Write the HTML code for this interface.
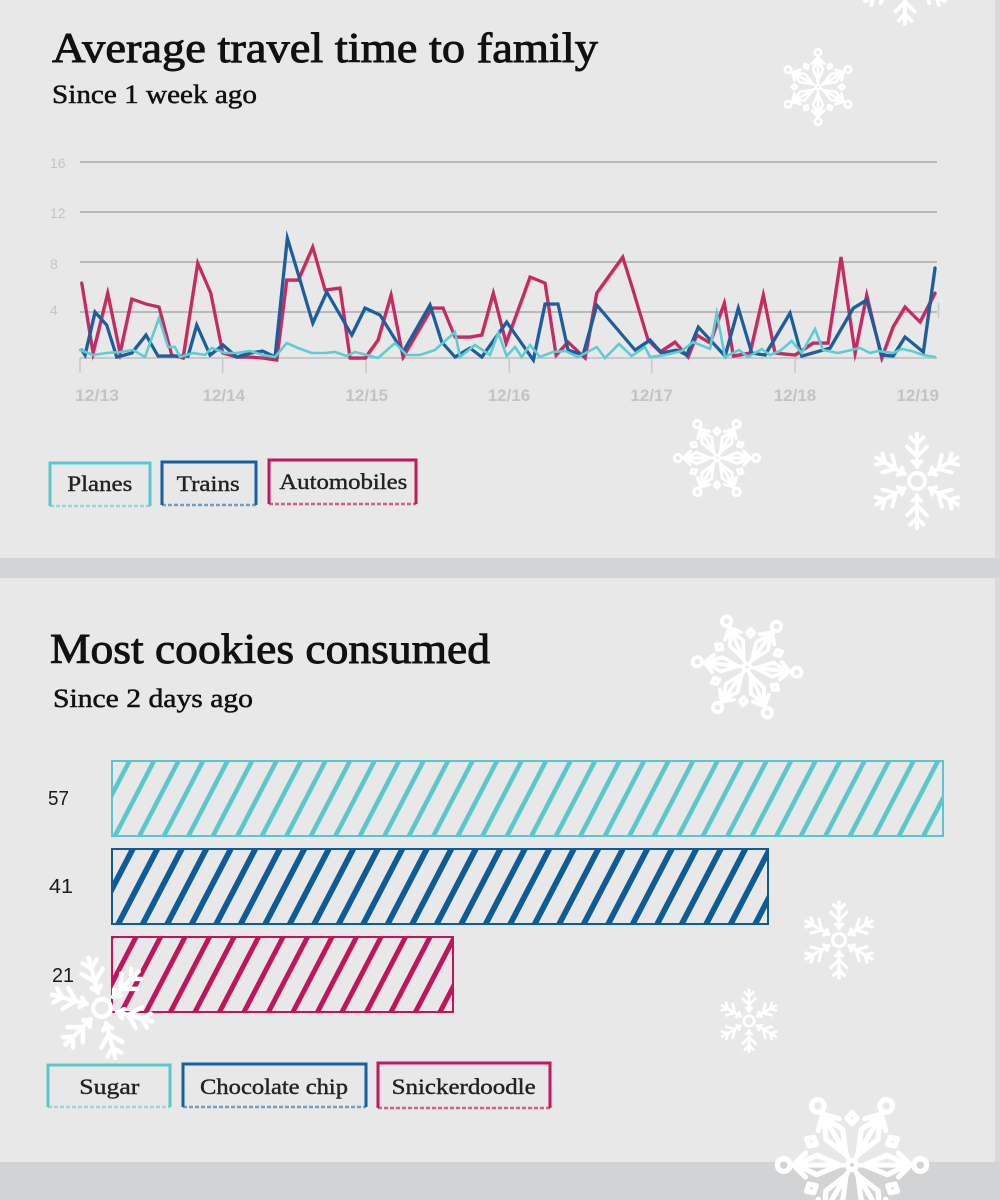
<!DOCTYPE html>
<html>
<head>
<meta charset="utf-8">
<style>
  html,body{margin:0;padding:0;background:#e8e8e8;}
  svg{display:block;}
  .serif{font-family:"Liberation Serif","DejaVu Serif",serif;}
  .sans{font-family:"Liberation Sans","DejaVu Sans",sans-serif;}
</style>
</head>
<body>
<svg width="1000" height="1200" viewBox="0 0 1000 1200" xmlns="http://www.w3.org/2000/svg">
  <defs>
    <pattern id="pc" patternUnits="userSpaceOnUse" width="24.5" height="200" patternTransform="skewX(-27.5)">
      <rect x="8.5" y="0" width="5.2" height="200" fill="#5ac7cc"/>
    </pattern>
    <pattern id="pb" patternUnits="userSpaceOnUse" width="24.5" height="200" patternTransform="skewX(-27.5)">
      <rect x="8" y="0" width="6.5" height="200" fill="#0d5b97"/>
    </pattern>
    <pattern id="pr" patternUnits="userSpaceOnUse" width="24.5" height="200" patternTransform="skewX(-27.5)">
      <rect x="8.5" y="0" width="5.6" height="200" fill="#c0145c"/>
    </pattern>

    <g id="armB">
      <line x1="0" y1="-0.3" x2="0" y2="-1"/>
      <polyline points="-0.21,-0.73 0,-0.52 0.21,-0.73"/>
      <polyline points="-0.14,-0.93 0,-0.79 0.14,-0.93"/>
      <polyline points="-0.09,-0.42 0,-0.33 0.09,-0.42"/>
    </g>
    <g id="snowB" fill="none" stroke="#ffffff" stroke-width="0.085" stroke-linecap="round" stroke-linejoin="round">
      <circle cx="0" cy="0" r="0.17"/>
      <use href="#armB"/>
      <use href="#armB" transform="rotate(60)"/>
      <use href="#armB" transform="rotate(120)"/>
      <use href="#armB" transform="rotate(180)"/>
      <use href="#armB" transform="rotate(240)"/>
      <use href="#armB" transform="rotate(300)"/>
    </g>

    <g id="armA">
      <line x1="0" y1="-0.12" x2="0" y2="-0.82"/>
      <circle cx="0" cy="-0.91" r="0.085"/>
      <path d="M0,-0.16 L0.13,-0.47 L0,-0.74 L-0.13,-0.47 Z"/>
      <polyline points="-0.16,-0.62 0,-0.78 0.16,-0.62"/>
      <g transform="rotate(30)">
        <path d="M0,-0.7 L0.065,-0.625 L0,-0.55 L-0.065,-0.625 Z"/>
      </g>
    </g>
    <g id="snowA" fill="none" stroke="#ffffff" stroke-width="0.07" stroke-linecap="round" stroke-linejoin="round">
      <circle cx="0" cy="0" r="0.06"/>
      <use href="#armA"/>
      <use href="#armA" transform="rotate(60)"/>
      <use href="#armA" transform="rotate(120)"/>
      <use href="#armA" transform="rotate(180)"/>
      <use href="#armA" transform="rotate(240)"/>
      <use href="#armA" transform="rotate(300)"/>
    </g>
  </defs>

  <!-- backgrounds -->
  <rect x="0" y="0" width="1000" height="1200" fill="#e8e8e8"/>
  <rect x="995" y="0" width="5" height="1200" fill="#dadadb"/>
  <rect x="0" y="558" width="1000" height="20" fill="#d3d4d6"/>
  <rect x="0" y="1162" width="1000" height="38" fill="#d2d3d5"/>

  <!-- ============ TOP CHART ============ -->
  <text class="serif" x="52" y="62" font-size="42" fill="#111" stroke="#111" stroke-width="0.9" textLength="546" lengthAdjust="spacingAndGlyphs">Average travel time to family</text>
  <text class="serif" x="52" y="103" font-size="26" fill="#111" stroke="#111" stroke-width="0.5" textLength="205" lengthAdjust="spacingAndGlyphs">Since 1 week ago</text>

  <!-- grid -->
  <g stroke="#a9a9ab" stroke-width="1.5">
    <line x1="80" y1="162" x2="937" y2="162"/>
    <line x1="80" y1="212" x2="937" y2="212"/>
    <line x1="80" y1="262" x2="937" y2="262"/>
    <line x1="80" y1="312" x2="937" y2="312"/>
  </g>
  <line x1="80" y1="358" x2="937" y2="358" stroke="#bdbdbf" stroke-width="1.5"/>
  <g stroke="#c9c9cb" stroke-width="1.5">
    <line x1="80" y1="358" x2="80" y2="373"/>
    <line x1="222.7" y1="358" x2="222.7" y2="373"/>
    <line x1="366" y1="358" x2="366" y2="373"/>
    <line x1="509.3" y1="358" x2="509.3" y2="373"/>
    <line x1="651.7" y1="358" x2="651.7" y2="373"/>
    <line x1="795" y1="358" x2="795" y2="373"/>
    <line x1="938.5" y1="303" x2="938.5" y2="318"/>
  </g>
  <g class="sans" font-size="14" fill="#c4c4c6">
    <text x="50" y="168">16</text>
    <text x="50" y="218">12</text>
    <text x="50" y="269">8</text>
    <text x="50" y="315">4</text>
  </g>
  <g class="sans" font-size="17" font-weight="bold" fill="#c3c3c5">
    <text x="75" y="401" textLength="44" lengthAdjust="spacingAndGlyphs">12/13</text>
    <text x="223.8" y="401" text-anchor="middle">12/14</text>
    <text x="366.7" y="401" text-anchor="middle">12/15</text>
    <text x="509" y="401" text-anchor="middle">12/16</text>
    <text x="651.7" y="401" text-anchor="middle">12/17</text>
    <text x="795" y="401" text-anchor="middle">12/18</text>
    <text x="939" y="401" text-anchor="end">12/19</text>
  </g>

  <!-- series -->
  <g fill="none" stroke-linejoin="miter" stroke-miterlimit="6" stroke-linecap="round">
    <!-- Automobiles -->
    <polyline stroke="#c52b62" stroke-width="2" opacity="0.5" transform="translate(0.9,0.9)" points="81.7,283 93,353 107.7,293 120,353 131.7,299 146,304 159,307 171.7,355 183,358 197.7,263 210.7,293 222.7,353 236.7,357 250,357 263,358 276.7,360 286.7,280 298.3,280 312.7,247 325,290 340,288 350,358 365,358 378,340 391,295 403,357 431.7,308 443,308 455,337 470,337 481.7,335 493.3,293 506,343 530,277 545,283 556,355 568,342 585,358 596.7,293 622.7,257 633,290 648,340 660,352 675,342 688,357 696.7,335 710,343 724.3,303 733.3,356 750,353 763.3,295 775,353 795,355 813,343 828,343 841,257 855,353 866.7,295 881.7,358 893,327 905,307 920,322 935,293"/>
    <polyline stroke="#c52b62" stroke-width="3.2" points="81.7,283 93,353 107.7,293 120,353 131.7,299 146,304 159,307 171.7,355 183,358 197.7,263 210.7,293 222.7,353 236.7,357 250,357 263,358 276.7,360 286.7,280 298.3,280 312.7,247 325,290 340,288 350,358 365,358 378,340 391,295 403,357 431.7,308 443,308 455,337 470,337 481.7,335 493.3,293 506,343 530,277 545,283 556,355 568,342 585,358 596.7,293 622.7,257 633,290 648,340 660,352 675,342 688,357 696.7,335 710,343 724.3,303 733.3,356 750,353 763.3,295 775,353 795,355 813,343 828,343 841,257 855,353 866.7,295 881.7,358 893,327 905,307 920,322 935,293"/>
    <!-- Trains -->
    <polyline stroke="#1b5e9b" stroke-width="2" opacity="0.45" transform="translate(0.8,0.8)" points="81.7,350 85,355 95,312 106.7,325 116.7,357 131.7,353 146,335 158,356 173,356 188,356 196.7,325 210,355 223,345 236.7,357 250,353 262.7,351 275,357 287.3,238 300,280 312.7,323 326.7,292 351.7,335 365,308 380,315 403,352 430,305 441.7,342 455,357 470,348 481.7,357 506.7,322 533.3,360 545,304 558,304 568,350 583,355 596.7,305 635,350 650,340 661.7,353 676.7,350 686.7,355 698.3,327 725,356 738.3,308 751.7,353 765,355 790,313 801.7,356 830,348 853.3,308 866.7,300 881.7,355 893,356 905,337 923.3,352 935,268"/>
    <polyline stroke="#1b5e9b" stroke-width="3.2" points="81.7,350 85,355 95,312 106.7,325 116.7,357 131.7,353 146,335 158,356 173,356 188,356 196.7,325 210,355 223,345 236.7,357 250,353 262.7,351 275,357 287.3,238 300,280 312.7,323 326.7,292 351.7,335 365,308 380,315 403,352 430,305 441.7,342 455,357 470,348 481.7,357 506.7,322 533.3,360 545,304 558,304 568,350 583,355 596.7,305 635,350 650,340 661.7,353 676.7,350 686.7,355 698.3,327 725,356 738.3,308 751.7,353 765,355 790,313 801.7,356 830,348 853.3,308 866.7,300 881.7,355 893,356 905,337 923.3,352 935,268"/>
    <!-- Planes -->
    <polyline stroke="#5ccdd2" stroke-width="2.6" points="80,350 93,355 106.7,353 120,352 133,350 145,357 159,318 168,347 175,347 180,357 193,353 205,355 211.7,348 225,353 236.7,353 250,351 263,355 275,357 286.7,343 298,348 311.7,353 325,353 335,352 346.7,356 355,352 366.7,355 378,358 395,343 406.7,355 420,355 435,350 455,332 460,357 475,345 490,355 498.3,333 506.7,356 515,347 521.7,357 530,345 540,357 553,352 565,351 578,357 596.7,347 605,358 619,344 631.7,356 645,347 650,357 665,355 681.7,351 693,342 710,349 716.7,313 725,357 739,350 748,357 761.7,349 770,355 780,351 791.7,341 801.7,353 815,329 823,350 838,353 860,348 870,353 878,351 893,353 901.7,349 911.7,351 923,355 935,357"/>
  </g>

  <!-- legend 1 -->
  <g fill="none">
    <path d="M50,506 L50,463 L150,463 L150,506" stroke="#5ac7cc" stroke-width="3"/>
    <line x1="50" y1="506" x2="150" y2="506" stroke="#5ac7cc" stroke-width="2.5" stroke-dasharray="4 2" opacity="0.55"/>
    <path d="M162,505 L162,462 L256,462 L256,505" stroke="#15609d" stroke-width="3"/>
    <line x1="162" y1="505" x2="256" y2="505" stroke="#15609d" stroke-width="2.5" stroke-dasharray="4 2" opacity="0.55"/>
    <path d="M269,504 L269,460 L416,460 L416,504" stroke="#c4175e" stroke-width="3"/>
    <line x1="269" y1="504" x2="416" y2="504" stroke="#c4175e" stroke-width="2.5" stroke-dasharray="4 2" opacity="0.65"/>
  </g>
  <g class="serif" font-size="22" fill="#222" stroke="#222" stroke-width="0.4">
    <text x="67.3" y="491" textLength="65" lengthAdjust="spacingAndGlyphs">Planes</text>
    <text x="176.7" y="491" textLength="63" lengthAdjust="spacingAndGlyphs">Trains</text>
    <text x="279.3" y="489" textLength="128" lengthAdjust="spacingAndGlyphs">Automobiles</text>
  </g>

  <!-- ============ BOTTOM CHART ============ -->
  <text class="serif" x="50" y="663" font-size="42" fill="#111" stroke="#111" stroke-width="0.9" textLength="440" lengthAdjust="spacingAndGlyphs">Most cookies consumed</text>
  <text class="serif" x="53" y="707" font-size="26" fill="#111" stroke="#111" stroke-width="0.5" textLength="200" lengthAdjust="spacingAndGlyphs">Since 2 days ago</text>

  <rect x="112" y="761" width="831" height="75" fill="url(#pc)" stroke="#5ac7cc" stroke-width="2"/>
  <rect x="112" y="849" width="656" height="75" fill="url(#pb)" stroke="#0d5b97" stroke-width="2"/>
  <rect x="112" y="937" width="341" height="75" fill="url(#pr)" stroke="#c0145c" stroke-width="2"/>

  <g class="sans" font-size="20" fill="#1a1a1a">
    <text x="48" y="805" textLength="21" lengthAdjust="spacingAndGlyphs">57</text>
    <text x="49" y="893" textLength="24" lengthAdjust="spacingAndGlyphs">41</text>
    <text x="52" y="982" textLength="22" lengthAdjust="spacingAndGlyphs">21</text>
  </g>

  <!-- legend 2 -->
  <g fill="none">
    <path d="M48,1107 L48,1065 L170,1065 L170,1107" stroke="#5ac7cc" stroke-width="3"/>
    <line x1="48" y1="1107" x2="170" y2="1107" stroke="#5ac7cc" stroke-width="2.5" stroke-dasharray="4 2" opacity="0.55"/>
    <path d="M183,1107 L183,1064 L366,1064 L366,1107" stroke="#15609d" stroke-width="3"/>
    <line x1="183" y1="1107" x2="366" y2="1107" stroke="#15609d" stroke-width="2.5" stroke-dasharray="4 2" opacity="0.55"/>
    <path d="M378,1108 L378,1063 L550,1063 L550,1108" stroke="#c4175e" stroke-width="3"/>
    <line x1="378" y1="1108" x2="550" y2="1108" stroke="#c4175e" stroke-width="2.5" stroke-dasharray="4 2" opacity="0.65"/>
  </g>
  <g class="serif" font-size="22" fill="#222" stroke="#222" stroke-width="0.4">
    <text x="79.3" y="1094" textLength="60" lengthAdjust="spacingAndGlyphs">Sugar</text>
    <text x="200" y="1094" textLength="148" lengthAdjust="spacingAndGlyphs">Chocolate chip</text>
    <text x="391.7" y="1094" textLength="144" lengthAdjust="spacingAndGlyphs">Snickerdoodle</text>
  </g>

  <!-- snowflakes -->
  <use href="#snowB" transform="translate(905,-22) scale(46)"/>
  <use href="#snowA" transform="translate(818,87) scale(38)"/>
  <use href="#snowA" transform="translate(717,458) scale(43) rotate(90)"/>
  <use href="#snowB" transform="translate(917,481) scale(47)"/>
  <use href="#snowA" transform="translate(747,667) scale(55) rotate(96)"/>
  <use href="#snowB" transform="translate(839,940) scale(38)"/>
  <use href="#snowB" transform="translate(749,1021) scale(31)"/>
  <use href="#snowB" transform="translate(102,1008) scale(52) rotate(-15)"/>
  <use href="#snowA" transform="translate(852,1165) scale(75) rotate(90)"/>
</svg>
</body>
</html>
